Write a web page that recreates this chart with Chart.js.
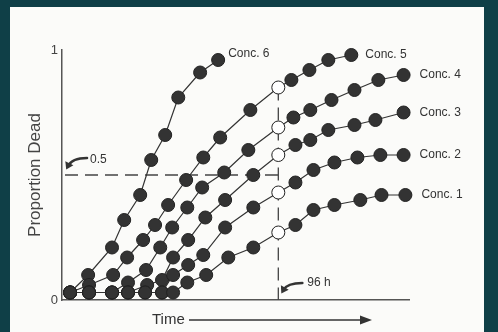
<!DOCTYPE html>
<html>
<head>
<meta charset="utf-8">
<script src="https://cdn.jsdelivr.net/npm/chart.js@4.4.1/dist/chart.umd.min.js"></script>
<style>
  html, body { margin: 0; padding: 0; background: #0f3f47; }
  canvas { display: block; }
</style>
</head>
<body>
<canvas id="chart" width="498" height="332"></canvas>
<script>
// Cumulative mortality over time for six test concentrations
const seriesNames = ['Conc. 1', 'Conc. 2', 'Conc. 3', 'Conc. 4', 'Conc. 5', 'Conc. 6'];

const hours1 = [3.6, 12.0, 22.2, 29.3, 36.9, 44.4, 49.3, 55.6, 64.0, 73.8, 84.9, 96, 103.6, 111.6, 120.9, 132.4, 141.8, 152.4];
const dead1  = [0.03, 0.03, 0.03, 0.03, 0.03, 0.03, 0.03, 0.07, 0.10, 0.17, 0.21, 0.27, 0.30, 0.36, 0.38, 0.40, 0.42, 0.42];

const hours2 = [3.6, 12.0, 22.2, 29.3, 36.9, 44.4, 49.3, 56.0, 62.7, 72.4, 84.9, 96, 103.6, 111.6, 120.9, 131.1, 141.3, 151.6];
const dead2  = [0.03, 0.03, 0.03, 0.03, 0.03, 0.03, 0.10, 0.14, 0.18, 0.29, 0.37, 0.43, 0.47, 0.52, 0.55, 0.57, 0.58, 0.58];

const hours3 = [3.6, 12.0, 22.2, 29.3, 37.8, 44.4, 49.3, 56.0, 63.6, 72.4, 84.9, 96, 103.6, 110.2, 118.2, 129.8, 139.1, 151.6];
const dead3  = [0.03, 0.03, 0.03, 0.03, 0.06, 0.08, 0.17, 0.24, 0.33, 0.40, 0.50, 0.58, 0.62, 0.64, 0.68, 0.70, 0.72, 0.75];

const hours4 = [3.6, 12.0, 22.2, 29.3, 37.3, 43.6, 48.9, 55.6, 62.2, 72.0, 82.7, 96, 102.7, 110.2, 119.6, 129.8, 140.4, 151.6];
const dead4  = [0.03, 0.03, 0.03, 0.07, 0.12, 0.21, 0.29, 0.37, 0.45, 0.51, 0.60, 0.69, 0.73, 0.76, 0.80, 0.84, 0.88, 0.90];

const hours5 = [3.6, 12.0, 22.7, 28.9, 36.0, 41.3, 47.1, 55.1, 62.7, 70.2, 83.6, 96, 101.8, 109.8, 118.2, 128.4];
const dead5  = [0.03, 0.06, 0.10, 0.17, 0.24, 0.30, 0.38, 0.48, 0.57, 0.65, 0.76, 0.85, 0.88, 0.92, 0.96, 0.98];

const hours6 = [3.6, 11.6, 22.2, 27.6, 34.7, 39.6, 45.8, 51.6, 61.3, 69.3];
const dead6  = [0.03, 0.10, 0.21, 0.32, 0.42, 0.56, 0.66, 0.81, 0.91, 0.96];

const thresholdValue = 0.5;   // proportion dead marked by the horizontal guide
const exposureHours = 96;     // time marked by the vertical guide
const timeMax = 154;

const allHours = [hours1, hours2, hours3, hours4, hours5, hours6];
const allDead  = [dead1, dead2, dead3, dead4, dead5, dead6];

const INK = '#333333';
const FONT = "'Liberation Sans', Arial, Helvetica, sans-serif";

const datasets = allHours.map((hrs, i) => ({
  label: seriesNames[i],
  data: hrs.map((h, j) => ({ x: h, y: allDead[i][j] })),
  borderColor: INK,
  borderWidth: 1.2,
  pointRadius: 6.5,
  pointBorderWidth: 1,
  pointBorderColor: '#222222',
  pointBackgroundColor: ctx => (ctx.raw && ctx.raw.x === exposureHours) ? '#ffffff' : '#333333',
  tension: 0,
  clip: false
}));

// Label offsets from each curve's final point
const labelShift = [
  { dx: 16, dy: 0 }, { dx: 16, dy: 0 }, { dx: 16, dy: 0 },
  { dx: 16, dy: 0 }, { dx: 14, dy: 0 }, { dx: 10, dy: -6 }
];

function curvedArrow(ctx, sx, sy, cx, cy, ex, ey) {
  ctx.save();
  ctx.strokeStyle = INK;
  ctx.fillStyle = INK;
  ctx.lineWidth = 2.6;
  ctx.lineCap = 'round';
  ctx.beginPath();
  ctx.moveTo(sx, sy);
  ctx.quadraticCurveTo(cx, cy, ex, ey);
  ctx.stroke();
  // arrow head aligned with the curve's final direction
  const ang = Math.atan2(ey - cy, ex - cx);
  const len = 7, half = 4.5;
  const tipX = ex + Math.cos(ang) * 4, tipY = ey + Math.sin(ang) * 4;
  ctx.beginPath();
  ctx.moveTo(tipX, tipY);
  ctx.lineTo(tipX - Math.cos(ang) * len - Math.sin(ang) * half, tipY - Math.sin(ang) * len + Math.cos(ang) * half);
  ctx.lineTo(tipX - Math.cos(ang) * len + Math.sin(ang) * half, tipY - Math.sin(ang) * len - Math.cos(ang) * half);
  ctx.closePath();
  ctx.fill();
  ctx.restore();
}

const overlay = {
  id: 'overlay',
  beforeDraw(chart) {
    const ctx = chart.ctx;
    ctx.save();
    ctx.fillStyle = '#0f3f47';
    ctx.fillRect(0, 0, chart.width, chart.height);
    ctx.fillStyle = '#fbfbf9';
    ctx.fillRect(10, 7, 474, chart.height - 7);
    ctx.restore();
  },
  beforeDatasetsDraw(chart) {
    const { ctx, scales: { x, y } } = chart;
    const xv = x.getPixelForValue(exposureHours);
    const yv = y.getPixelForValue(thresholdValue);
    ctx.save();
    ctx.strokeStyle = '#444';
    ctx.lineWidth = 1.3;
    ctx.setLineDash([13, 7]);
    ctx.beginPath();
    ctx.moveTo(x.left + 3, yv);
    ctx.lineTo(xv, yv);
    ctx.stroke();
    ctx.beginPath();
    ctx.moveTo(xv, y.getPixelForValue(dead5[hours5.indexOf(exposureHours)]));
    ctx.lineTo(xv, y.getPixelForValue(0));
    ctx.stroke();
    ctx.restore();
  },
  afterDatasetsDraw(chart) {
    const { ctx, scales: { x, y } } = chart;
    ctx.save();
    ctx.fillStyle = '#333';
    ctx.textBaseline = 'middle';
    ctx.textAlign = 'left';
    ctx.font = '12px ' + FONT;
    chart.data.datasets.forEach((ds, i) => {
      const pts = chart.getDatasetMeta(i).data;
      const last = pts[pts.length - 1];
      ctx.fillText(ds.label, last.x + labelShift[i].dx, last.y + labelShift[i].dy);
    });

    // threshold callout
    const yv = y.getPixelForValue(thresholdValue);
    ctx.fillText(String(thresholdValue), x.left + 28, yv - 15);
    curvedArrow(ctx, x.left + 25, yv - 17, x.left + 10, yv - 17, x.left + 6, yv - 9);

    // exposure time callout
    const xv = x.getPixelForValue(exposureHours);
    const yb = y.getPixelForValue(0);
    ctx.fillText(exposureHours + ' h', xv + 29, yb - 17);
    curvedArrow(ctx, xv + 24, yb - 17, xv + 9, yb - 17, xv + 5, yb - 10);

    // time axis caption with arrow
    ctx.font = '15px ' + FONT;
    ctx.fillText('Time', 152, 320);
    ctx.strokeStyle = '#333';
    ctx.lineWidth = 1.4;
    ctx.beginPath();
    ctx.moveTo(189, 320);
    ctx.lineTo(362, 320);
    ctx.stroke();
    ctx.fillStyle = '#333';
    ctx.beginPath();
    ctx.moveTo(372, 320);
    ctx.lineTo(360, 315.5);
    ctx.lineTo(360, 324.5);
    ctx.closePath();
    ctx.fill();
    ctx.restore();
  }
};

new Chart(document.getElementById('chart'), {
  type: 'line',
  data: { datasets },
  options: {
    responsive: false,
    animation: false,
    devicePixelRatio: 1,
    layout: { padding: { top: 50, right: 89, left: 0, bottom: 0 } },
    plugins: { legend: { display: false }, tooltip: { enabled: false } },
    scales: {
      x: {
        type: 'linear',
        min: 0,
        max: timeMax,
        afterFit(s) { s.height = 32; },
        grid: { display: false, drawTicks: false },
        border: { display: true, color: '#555', width: 1.5 },
        ticks: { display: false }
      },
      y: {
        min: 0,
        max: 1,
        afterFit(s) { s.width = 62; },
        grid: { display: false, drawTicks: false },
        border: { display: true, color: '#555', width: 1.5 },
        ticks: { stepSize: 1, color: '#444', padding: 4, font: { family: FONT, size: 13 } },
        title: {
          display: true,
          text: 'Proportion Dead',
          color: '#444',
          font: { family: FONT, size: 17 },
          padding: { top: 25, bottom: 0 }
        }
      }
    }
  },
  plugins: [overlay]
});
</script>
</body>
</html>
